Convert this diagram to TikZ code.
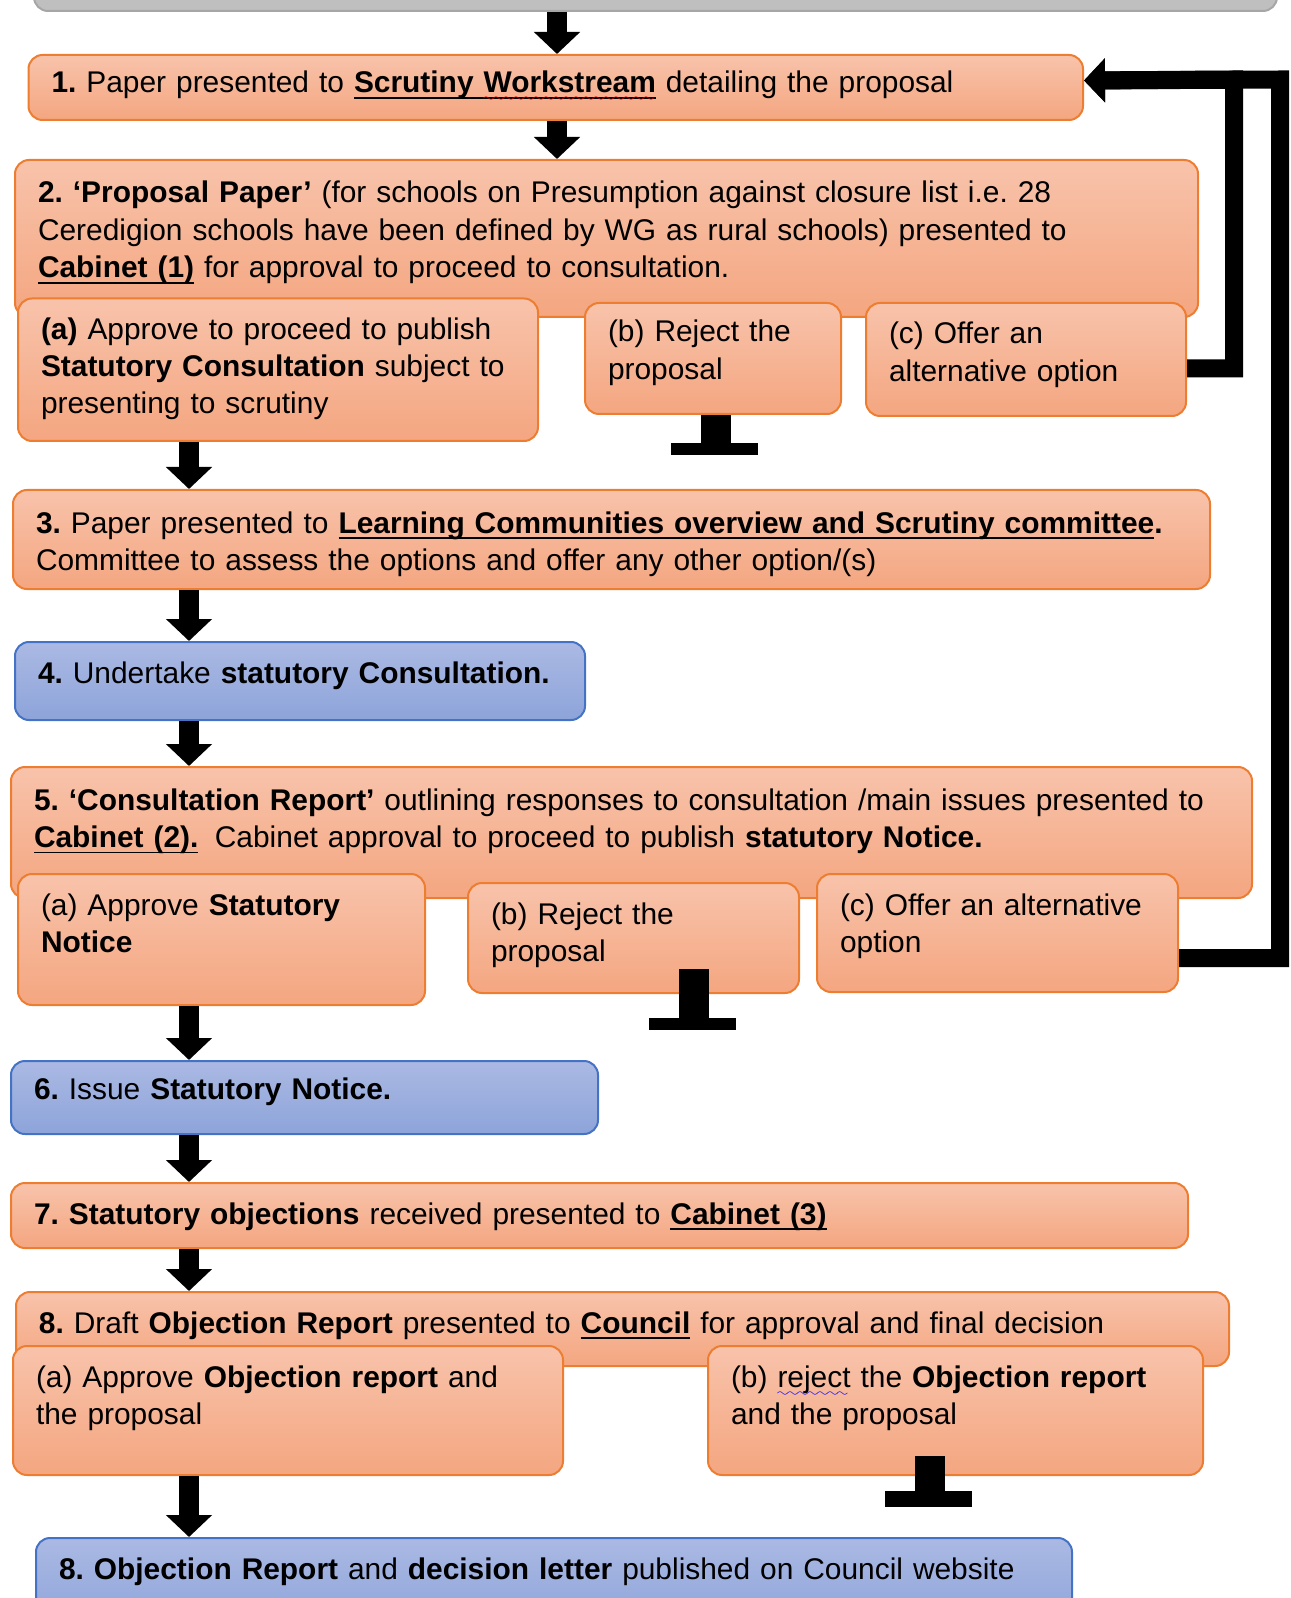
\documentclass[tikz,border=0pt]{standalone}
\usepackage{fontspec}
\setmainfont{Liberation Sans}
\usepackage{xcolor}
\definecolor{certop}{HTML}{F8C3AB}
\definecolor{cerbot}{HTML}{F4A680}
\definecolor{cerline}{HTML}{ED7D31}
\definecolor{cerbtop}{HTML}{ABB9E3}
\definecolor{cerbbot}{HTML}{8DA4DA}
\definecolor{cerbline}{HTML}{4472C4}
\definecolor{cergrey}{HTML}{BFBFBF}
\definecolor{cergreyline}{HTML}{A6A6A6}
\usetikzlibrary{arrows.meta,calc}
\font\cerwavefont=lasy6
\newcommand{\cerfont}{\fontsize{14.95pt}{18.6pt}\selectfont\frenchspacing\hyphenpenalty=10000\relax}
\newcommand{\cerul}[1]{\setbox0\hbox{#1}\rlap{\rule[-3.1pt]{\wd0}{0.9pt}}#1}
\newcommand{\cersquig}[2]{\setbox0\hbox{#2}\rlap{\textcolor{#1}{\lower4.5pt\hbox to\wd0{\leaders\hbox{\cerwavefont\char58}\hfil}}}#2}
\tikzset{
  cerbox/.style={draw=cerline,line width=1pt,rounded corners=7pt,top color=certop,bottom color=cerbot,anchor=north west,align=left,inner xsep=11.5pt,inner ysep=0pt,text height=20.5pt,font=\cerfont},
  cerblue/.style={cerbox,draw=cerbline,top color=cerbtop,bottom color=cerbbot},
  cersize/.style 2 args={text width=#1,text depth=#2},
  cerflow/.style={-{Triangle[length=11pt,width=22.5pt]},line width=10pt},
  cerback/.style={-{Triangle[length=10.5pt,width=21.5pt]},line width=9pt,line join=miter},
  cerstem/.style={line width=15pt},
}

\begin{document}
\begin{tikzpicture}[x=0.5pt,y=-0.5pt]
\useasboundingbox (0,0) rectangle (1290,1598);
% stages
\node[cerbox,draw=cergreyline,top color=cergrey,bottom color=cergrey,minimum width=621.5pt,minimum height=35pt,text height=0pt,text depth=0pt] (s0) at (33,-60) {};
\node[cerbox,cersize={504.25pt}{13.5pt},text height=19pt] (s1) at (27.5,54) {\textbf{1.} Paper presented to \textbf{\cerul{Scrutiny \cersquig{red}{Workstream}}} detailing the proposal};
\node[cerbox,cersize={568.5pt}{57pt},text height=21.5pt] (s2) at (14,159) {\textbf{2. ‘Proposal Paper’} (for schools on Presumption against closure list i.e. 28\\Ceredigion schools have been defined by WG as rural schools) presented to\\\textbf{\cerul{Cabinet (1)}} for approval to proceed to consultation.};
\node[cerbox,cersize={237pt}{50.75pt}] (s2a) at (17,297.5) {\textbf{(a)} Approve to proceed to publish\\\textbf{Statutory Consultation} subject to\\presenting to scrutiny};
\node[cerbox,cersize={105pt}{36pt},text height=19.5pt] (s2b) at (584,302) {(b) Reject the\\proposal};
\node[cerbox,cersize={137pt}{36pt}] (s2c) at (865,302) {(c) Offer an\\alternative option};
\node[cerbox,cersize={575.5pt}{28pt},text height=21.5pt] (s3) at (12,489) {\textbf{3.} Paper presented to \textbf{\cerul{Learning Communities overview and Scrutiny committee}.}\\Committee to assess the options and offer any other option/(s)};
\node[cerblue,cersize={262pt}{18.5pt}] (s4) at (14,641) {\mbox{\textbf{4.} Undertake \textbf{statutory Consultation.}}};
\node[cerbox,cersize={597.5pt}{44pt},text height=21.5pt] (s5) at (10,766) {\textbf{5. ‘Consultation Report’} outlining responses to consultation /main issues presented to\\\textbf{\cerul{Cabinet (2).}}\hspace{0.55em}Cabinet approval to proceed to publish \textbf{statutory Notice.}};
\node[cerbox,cersize={180.5pt}{45pt}] (s5a) at (17,873) {(a) Approve \textbf{Statutory}\\\textbf{Notice}};
\node[cerbox,cersize={142.5pt}{34.5pt}] (s5b) at (467,882) {(b) Reject the\\proposal};
\node[cerbox,cersize={157.5pt}{38.5pt}] (s5c) at (816,873) {(c) Offer an alternative\\option};
\node[cerblue,cersize={270.5pt}{17.5pt},text height=19pt] (s6) at (10,1060) {\textbf{6.} Issue \textbf{Statutory Notice.}};
\node[cerbox,cersize={565.5pt}{12pt}] (s7) at (10,1182) {\textbf{7. Statutory objections} received presented to \textbf{\cerul{Cabinet (3)}}};
\node[cerbox,cersize={583.5pt}{16.5pt}] (s8) at (15,1291) {\textbf{8.} Draft \textbf{Objection Report} presented to \textbf{\cerul{Council}} for approval and final decision};
\node[cerbox,cersize={252pt}{44pt}] (s8a) at (12,1345) {(a) Approve \textbf{Objection report} and\\the proposal};
\node[cerbox,cersize={224.5pt}{44pt}] (s8b) at (707,1345) {(b) \cersquig{blue}{reject} the \textbf{Objection report}\\and the proposal};
\node[cerblue,cersize={495pt}{24.5pt}] (s9) at (35,1537) {\textbf{8. Objection Report} and \textbf{decision letter} published on Council website};
% main flow
\coordinate (colA) at (557,0);
\coordinate (colB) at (189,0);
\draw[cerflow] (s0.south -| colA) -- (s1.north -| colA);
\draw[cerflow] (s1.south -| colA) -- (s2.north -| colA);
\draw[cerflow] (s2a.south -| colB) -- (s3.north -| colB);
\draw[cerflow] (s3.south -| colB) -- (s4.north -| colB);
\draw[cerflow] (s4.south -| colB) -- (s5.north -| colB);
\draw[cerflow] (s5a.south -| colB) -- (s6.north -| colB);
\draw[cerflow] (s6.south -| colB) -- (s7.north -| colB);
\draw[cerflow] (s7.south -| colB) -- (s8.north -| colB);
\draw[cerflow] (s8a.south -| colB) -- (s9.north -| colB);
% alternative options go back to step 1
\coordinate (backA) at (1234,79.5);
\coordinate (backB) at (1280,79.5);
\draw[cerback] ([yshift=-4.5pt]s2c.east) -| (backA) -- ([yshift=3.5pt]s1.east);
\draw[cerback] ([yshift=-12.5pt]s5c.east) -| (backB) -- ([yshift=3.5pt]s1.east);
% rejections stop
\draw[cerstem] ([xshift=1.5pt]s2b.south) -- ++(0,28) coordinate (t2b);
\fill ([xshift=-22.5pt]t2b) rectangle ([xshift=21pt,yshift=-6pt]t2b);
\draw[cerstem] ([xshift=30pt,yshift=12.5pt]s5b.south) -- ++(0,49) coordinate (t5b);
\fill ([xshift=-22.5pt]t5b) rectangle ([xshift=21pt,yshift=-6pt]t5b);
\draw[cerstem] ([xshift=-12.75pt,yshift=10pt]s8b.south) -- ++(0,35) coordinate (t8b);
\fill ([xshift=-22.5pt]t8b) rectangle ([xshift=21pt,yshift=-8pt]t8b);
\end{tikzpicture}
\end{document}
